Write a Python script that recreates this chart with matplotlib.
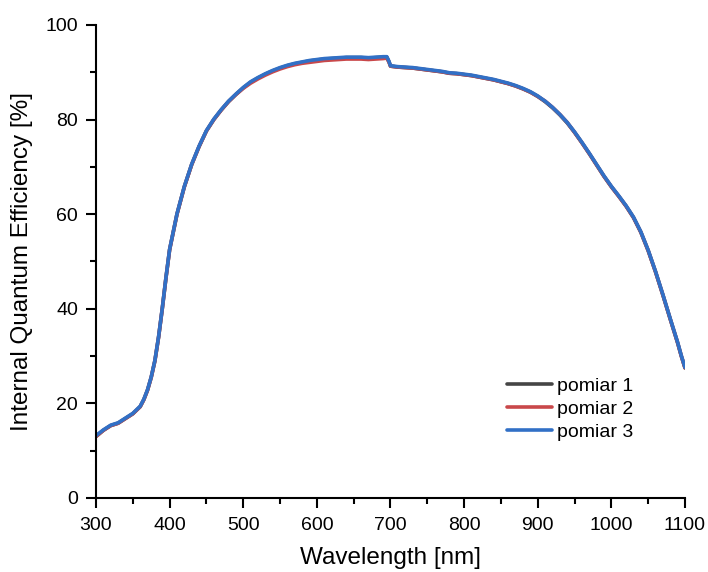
import matplotlib

matplotlib.use("Agg")
import matplotlib.pyplot as plt
from matplotlib.ticker import MultipleLocator

plt.rcParams["font.family"] = ["Liberation Sans", "DejaVu Sans"]

# values (wavelength in nm, IQE in %)
wavelength = [300, 310, 320, 330, 340, 350, 360, 365, 370, 375, 380, 385, 390,
              395, 400, 410, 420, 430, 440, 450, 460, 470, 480, 490, 500, 510,
              520, 530, 540, 550, 560, 570, 580, 590, 600, 610, 620, 630, 640,
              650, 660, 670, 680, 690, 695, 698, 700, 710, 720, 730, 740, 750,
              760, 770, 780, 790, 800, 810, 820, 830, 840, 850, 860, 870, 880,
              890, 900, 910, 920, 930, 940, 950, 960, 970, 980, 990, 1000, 1010,
              1020, 1030, 1040, 1050, 1060, 1070, 1080, 1090, 1095, 1100]

pomiar_1 = [13.0, 14.3, 15.3, 15.8, 16.8, 17.8, 19.3, 20.8, 22.8, 25.5, 29.0,
            34.0, 40.0, 46.5, 52.5, 60.0, 65.8, 70.5, 74.3, 77.6, 80.0, 82.0,
            83.8, 85.3, 86.7, 87.9, 88.8, 89.6, 90.3, 90.9, 91.4, 91.8, 92.1,
            92.4, 92.6, 92.8, 92.9, 93.0, 93.1, 93.1, 93.1, 93.0, 93.1, 93.2,
            93.2, 92.2, 91.3, 91.1, 91.0, 90.9, 90.7, 90.5, 90.3, 90.1, 89.8,
            89.7, 89.5, 89.3, 89.0, 88.7, 88.4, 88.0, 87.6, 87.1, 86.5, 85.8,
            84.9, 83.8, 82.5, 81.0, 79.3, 77.3, 75.1, 72.8, 70.4, 68.0, 65.8,
            63.8, 61.7, 59.3, 56.2, 52.3, 47.8, 42.9, 37.8, 32.8, 30.0, 27.5]

pomiar_2 = [13.0, 14.3, 15.3, 15.8, 16.8, 17.8, 19.3, 20.8, 22.8, 25.5, 29.0,
            34.0, 40.0, 46.5, 52.5, 60.0, 65.8, 70.5, 74.3, 77.6, 80.0, 82.0,
            83.8, 85.3, 86.6, 87.7, 88.6, 89.4, 90.1, 90.7, 91.2, 91.6, 91.9,
            92.1, 92.3, 92.5, 92.6, 92.7, 92.8, 92.8, 92.8, 92.7, 92.8, 92.9,
            93.0, 92.1, 91.3, 91.1, 91.0, 90.9, 90.7, 90.5, 90.3, 90.1, 89.8,
            89.7, 89.5, 89.3, 89.0, 88.7, 88.4, 88.0, 87.6, 87.1, 86.5, 85.8,
            84.9, 83.9, 82.6, 81.1, 79.4, 77.3, 75.1, 72.8, 70.4, 68.0, 65.8,
            63.8, 61.7, 59.3, 56.2, 52.3, 47.8, 42.9, 37.8, 32.8, 30.0, 27.5]

pomiar_3 = [13.2, 14.4, 15.4, 15.9, 16.9, 17.9, 19.4, 20.9, 22.9, 25.6, 29.1,
            34.1, 40.1, 46.6, 52.6, 60.1, 65.9, 70.6, 74.4, 77.7, 80.1, 82.1,
            83.9, 85.4, 86.8, 88.0, 88.9, 89.7, 90.4, 91.0, 91.5, 91.9, 92.2,
            92.5, 92.7, 92.9, 93.0, 93.1, 93.2, 93.2, 93.2, 93.1, 93.2, 93.3,
            93.3, 92.3, 91.4, 91.2, 91.1, 91.0, 90.8, 90.6, 90.4, 90.2, 89.9,
            89.8, 89.6, 89.4, 89.1, 88.8, 88.5, 88.1, 87.7, 87.2, 86.6, 85.9,
            85.0, 83.9, 82.6, 81.1, 79.4, 77.4, 75.2, 72.9, 70.5, 68.1, 65.9,
            63.9, 61.8, 59.4, 56.3, 52.4, 47.9, 43.0, 37.9, 32.9, 30.1, 27.6]

series = [("pomiar 1", pomiar_1, "#454545"),
          ("pomiar 2", pomiar_2, "#c9484a"),
          ("pomiar 3", pomiar_3, "#3170c6")]

fig = plt.figure(figsize=(7.08, 5.72), dpi=100)
ax = fig.add_axes([0.1356, 0.1294, 0.8319, 0.8269])

for name, vals, col in series:
    ax.plot(wavelength, vals, color=col, lw=2.6, label=name,
            solid_capstyle="round")

ax.set_xlim(300, 1100)
ax.set_ylim(0, 100)
ax.xaxis.set_major_locator(MultipleLocator(100))
ax.xaxis.set_minor_locator(MultipleLocator(50))
ax.yaxis.set_major_locator(MultipleLocator(20))
ax.yaxis.set_minor_locator(MultipleLocator(10))

for side in ("top", "right"):
    ax.spines[side].set_visible(False)
for side in ("left", "bottom"):
    ax.spines[side].set_linewidth(1.5)

ax.tick_params(which="major", direction="out", length=7, width=1.5,
               labelsize=14)
ax.tick_params(which="minor", direction="out", length=4, width=1.5)
ax.tick_params(axis="x", which="major", pad=7)
ax.tick_params(axis="y", which="major", pad=6)

ax.set_xlabel("Wavelength [nm]", fontsize=17.5, labelpad=9)
ax.set_ylabel("Internal Quantum Efficiency [%]", fontsize=17.5, labelpad=9)

ax.legend(loc="center", bbox_to_anchor=(0.805, 0.188), frameon=False,
          fontsize=14, handlelength=2.3, handletextpad=0.25,
          labelspacing=0.27, borderpad=0)

fig.savefig("out.png", dpi=100)
